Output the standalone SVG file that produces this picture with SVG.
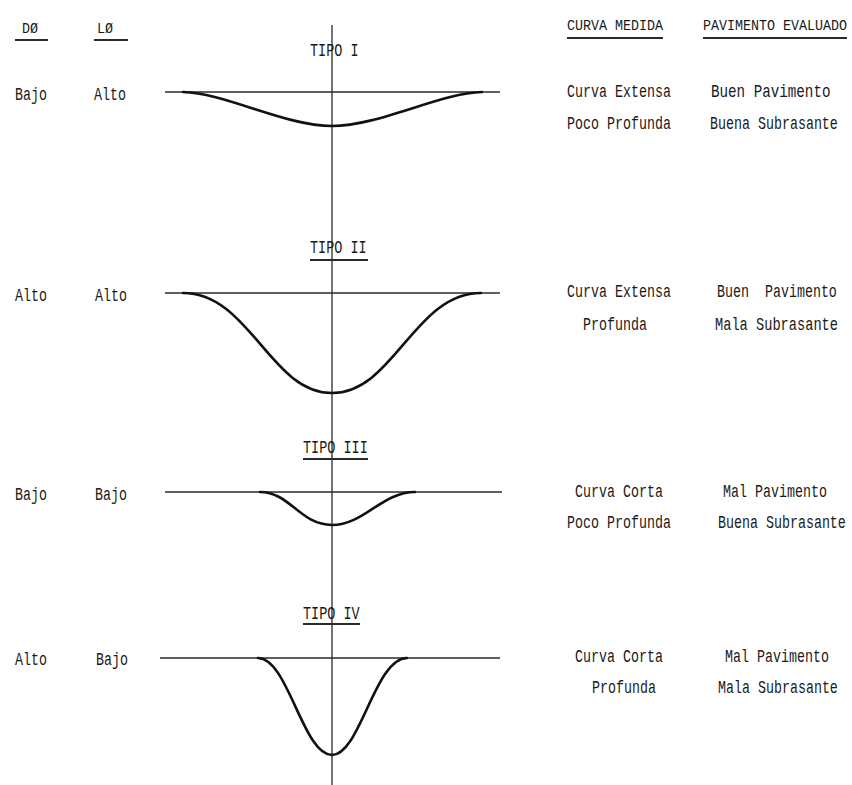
<svg xmlns="http://www.w3.org/2000/svg" width="852" height="785" viewBox="0 0 852 785">
<style>
  text { font-family: "Liberation Mono", "DejaVu Sans Mono", monospace; fill: #1a1a1a; }
  .t { font-size: 18px; }
  .h { font-size: 15px; }
  .ti { font-size: 18px; }
  .base { stroke: #2a2a2a; stroke-width: 1.5; fill: none; }
  .curve { stroke: #111; stroke-width: 2.6; fill: none; stroke-linecap: round; }
  .ul { stroke: #2a2a2a; stroke-width: 2; }
  .axis { stroke: #2a2a2a; stroke-width: 1.3; }
</style>
<rect width="852" height="785" fill="#ffffff"/>

<g id="headers">
  <text class="h" transform="translate(22,33) scale(0.89,1)">DØ</text>
  <line class="ul" x1="15" y1="40" x2="48" y2="40"/>
  <text class="h" transform="translate(97,33) scale(0.89,1)">LØ</text>
  <line class="ul" x1="94" y1="40" x2="128" y2="40"/>
  <text class="h" transform="translate(567,30) scale(0.89,1)">CURVA MEDIDA</text>
  <line class="ul" x1="567" y1="38" x2="663" y2="38"/>
  <text class="h" transform="translate(703,30) scale(0.89,1)">PAVIMENTO EVALUADO</text>
  <line class="ul" x1="703" y1="38" x2="847" y2="38"/>
</g>

<g id="axis">
  <line class="axis" x1="332" y1="25" x2="332" y2="785"/>
</g>

<g id="tipo1">
  <text class="ti" transform="translate(310,56) scale(0.75,1)">TIPO I</text>
  <line class="base" x1="165" y1="92" x2="500" y2="92"/>
  <path class="curve" d="M183,92 C225,93 285,126 332,126 C379,126 440,93 482,92"/>
  <text class="t" transform="translate(15,100) scale(0.74,1)">Bajo</text>
  <text class="t" transform="translate(94,100) scale(0.74,1)">Alto</text>
  <text class="t" transform="translate(567,97) scale(0.74,1)">Curva Extensa</text>
  <text class="t" transform="translate(567,129) scale(0.74,1)">Poco Profunda</text>
  <text class="t" transform="translate(711,97) scale(0.79,1)">Buen Pavimento</text>
  <text class="t" transform="translate(710,129) scale(0.74,1)">Buena Subrasante</text>
</g>

<g id="tipo2">
  <text class="ti" transform="translate(310,253) scale(0.75,1)">TIPO II</text>
  <line class="ul" x1="310" y1="260" x2="368" y2="260"/>
  <line class="base" x1="165" y1="293" x2="500" y2="293"/>
  <path class="curve" d="M183,293 C250,293 270,393 332,393 C394,393 414,293 481,293"/>
  <text class="t" transform="translate(15,301) scale(0.74,1)">Alto</text>
  <text class="t" transform="translate(95,301) scale(0.74,1)">Alto</text>
  <text class="t" transform="translate(567,297) scale(0.74,1)">Curva Extensa</text>
  <text class="t" transform="translate(583,330) scale(0.74,1)">Profunda</text>
  <text class="t" transform="translate(717,297) scale(0.74,1)" xml:space="preserve">Buen  Pavimento</text>
  <text class="t" transform="translate(715,330) scale(0.76,1)">Mala Subrasante</text>
</g>

<g id="tipo3">
  <text class="ti" transform="translate(303,453) scale(0.75,1)">TIPO III</text>
  <line class="ul" x1="303" y1="459" x2="368" y2="459"/>
  <line class="base" x1="165" y1="492" x2="502" y2="492"/>
  <path class="curve" d="M260,492 C290,492 300,525 332,525 C364,525 382,492 415,492"/>
  <text class="t" transform="translate(15,500) scale(0.74,1)">Bajo</text>
  <text class="t" transform="translate(95,500) scale(0.74,1)">Bajo</text>
  <text class="t" transform="translate(575,497) scale(0.74,1)">Curva Corta</text>
  <text class="t" transform="translate(567,528) scale(0.74,1)">Poco Profunda</text>
  <text class="t" transform="translate(723,497) scale(0.74,1)">Mal Pavimento</text>
  <text class="t" transform="translate(718,528) scale(0.74,1)">Buena Subrasante</text>
</g>

<g id="tipo4">
  <text class="ti" transform="translate(303,619) scale(0.75,1)">TIPO IV</text>
  <line class="ul" x1="303" y1="624" x2="360" y2="624"/>
  <line class="base" x1="160" y1="658" x2="500" y2="658"/>
  <path class="curve" d="M258,658 C288,658 303,755 332,755 C360,755 375,658 407,658"/>
  <text class="t" transform="translate(15,665) scale(0.74,1)">Alto</text>
  <text class="t" transform="translate(96,665) scale(0.74,1)">Bajo</text>
  <text class="t" transform="translate(575,662) scale(0.74,1)">Curva Corta</text>
  <text class="t" transform="translate(592,693) scale(0.74,1)">Profunda</text>
  <text class="t" transform="translate(725,662) scale(0.74,1)">Mal Pavimento</text>
  <text class="t" transform="translate(718,693) scale(0.74,1)">Mala Subrasante</text>
</g>
</svg>
